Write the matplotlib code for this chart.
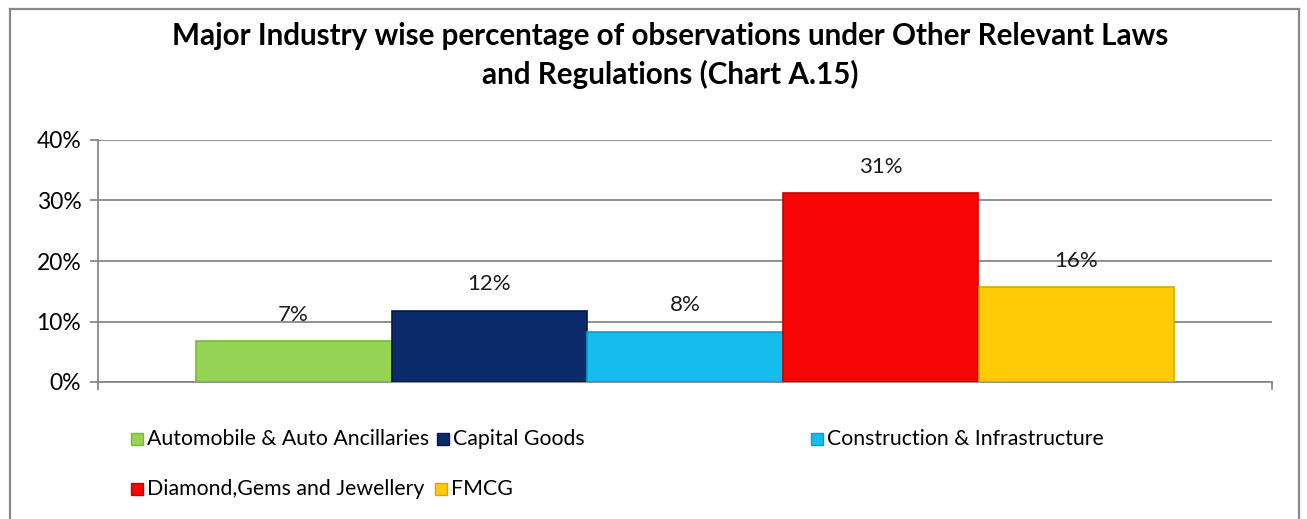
import matplotlib.pyplot as plt
from matplotlib.lines import Line2D
from matplotlib.patches import Rectangle
import numpy as np

plt.rcParams['font.family'] = ['Lato', 'DejaVu Sans']

industries = ['Automobile & Auto Ancillaries', 'Capital Goods', 'Construction & Infrastructure',
              'Diamond,Gems and Jewellery', 'FMCG']
values = [6.7, 11.8, 8.3, 31.2, 15.7]
labels = ['7%', '12%', '8%', '31%', '16%']
colors = ['#94D353', '#0B2A6A', '#14BDEE', '#F70606', '#FFCA08']
edges = ['#7DB63E', '#06184A', '#0A9CCB', '#C80000', '#D9A800']
yticks = [0, 10, 20, 30, 40]
ytick_labels = ['0%', '10%', '20%', '30%', '40%']

W, H = 1307, 519
fig = plt.figure(figsize=(W / 100, H / 100), dpi=100)
ax = fig.add_axes([98 / W, 1 - 382 / H, (1272 - 98) / W, (382 - 140) / H])

x = np.arange(len(values))
ax.bar(x, values, width=1.0, color=colors, edgecolor=edges, linewidth=1.2, zorder=3)
for xi, v, lab in zip(x, values, labels):
    ax.annotate(lab, (xi, v), xytext=(0, 19), textcoords='offset points',
                ha='center', va='center', fontsize=16, color='#1a1a1a', zorder=4)

ax.set_xlim(-1.0, 5.0)
ax.set_ylim(0, 40)
ax.set_yticks(yticks)
ax.set_yticklabels(ytick_labels, fontsize=16.5)
ax.set_xticks([-1.0, 5.0])
ax.set_xticklabels([])
ax.tick_params(axis='both', direction='out', length=6, width=1.3, color='#888888', pad=6)
ax.grid(axis='y', color='#888888', linewidth=1.3, zorder=0)
for s in ['top', 'right']:
    ax.spines[s].set_visible(False)
for s in ['left', 'bottom']:
    ax.spines[s].set_color('#888888')
    ax.spines[s].set_linewidth(1.3)

fig.text(670 / W, 1 - 36 / H, 'Major Industry wise percentage of observations under Other Relevant Laws',
         ha='center', va='center', fontsize=21.3, fontweight='bold')
fig.text(670 / W, 1 - 74 / H, 'and Regulations (Chart A.15)',
         ha='center', va='center', fontsize=21.3, fontweight='bold')

# legend laid out like the original (two rows, uneven columns)
leg_pos = [(131, 439), (437, 439), (811, 439), (131, 489), (435, 489)]
for (lx, ly), name, c, e in zip(leg_pos, industries, colors, edges):
    fig.patches.append(Rectangle((lx / W, 1 - (ly + 6) / H), 12 / W, 12 / H,
                                 transform=fig.transFigure, facecolor=c, edgecolor=e, lw=1))
    fig.text((lx + 16) / W, 1 - ly / H, name, ha='left', va='center', fontsize=15.3)

# outer chart frame
for xs, ys in [([10, 10], [519, 9]), ([10, 1299], [9, 9]), ([1299, 1299], [9, 519])]:
    fig.lines.append(Line2D([v / W for v in xs], [1 - v / H for v in ys],
                            transform=fig.transFigure, color='#888888', lw=1.6))

fig.savefig('out.png', dpi=100)
